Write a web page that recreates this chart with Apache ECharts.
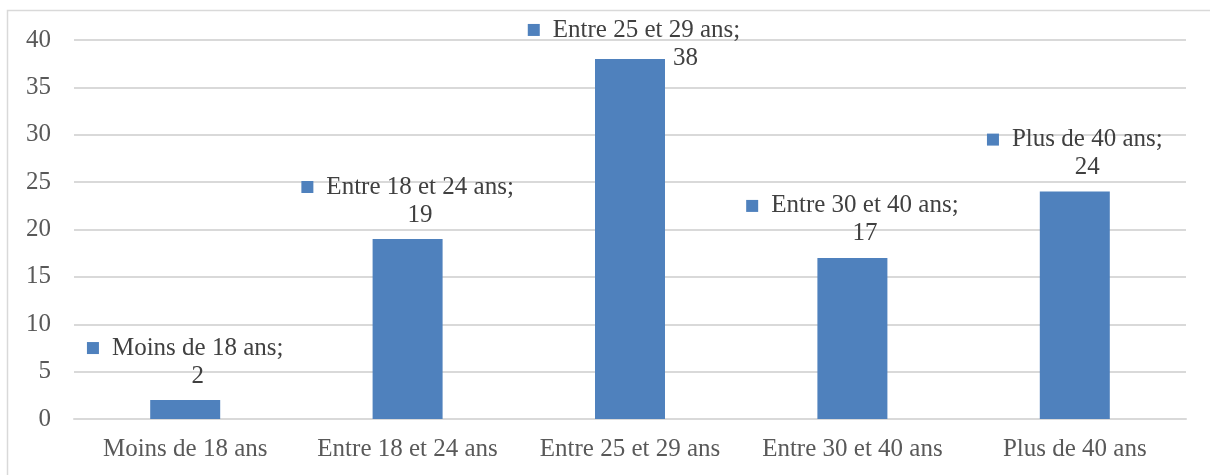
<!DOCTYPE html>
<html>
<head>
<meta charset="utf-8">
<script src="https://cdn.jsdelivr.net/npm/echarts@6/dist/echarts.min.js"></script>
<style>
html,body{margin:0;padding:0;background:#fff;}
#c{width:1210px;height:475px;}
</style>
</head>
<body>
<div id="c"></div>
<script>
const categories = ['Moins de 18 ans', 'Entre 18 et 24 ans', 'Entre 25 et 29 ans', 'Entre 30 et 40 ans', 'Plus de 40 ans'];
const values = [2, 19, 38, 17, 24];
const yTicks = { min: 0, max: 40, interval: 5 };

const FONT = '"Liberation Serif", "Times New Roman", serif';
const BLUE = '#4f81bd';

const rich = {
  sq: { width: 12, height: 12, backgroundColor: BLUE, verticalAlign: 'middle' },
  g: { width: 13 },
  t: { fontFamily: FONT, fontSize: 25, color: '#404040', lineHeight: 28 },
  v: { fontFamily: FONT, fontSize: 25, color: '#404040', lineHeight: 28, padding: [0, 0, 0, 25] },
  v2: { fontFamily: FONT, fontSize: 25, color: '#404040', lineHeight: 28, padding: [0, 0, 0, 103] }
};

const data = values.map((v, i) => {
  const item = { value: v };
  if (i === 2) {
    item.label = {
      offset: [4, 23],
      formatter: p => '{sq|}{g|}{t|' + p.name + ';}\n{v2|' + p.value + '}'
    };
  }
  return item;
});

const chart = echarts.init(document.getElementById('c'));
chart.setOption({
  animation: false,
  backgroundColor: '#fff',
  graphic: [{
    type: 'rect',
    shape: { x: 7.5, y: 10.5, width: 1300, height: 600 },
    style: { fill: 'none', stroke: '#d9d9d9', lineWidth: 1.5 },
    silent: true
  }],
  grid: { left: 74, right: 24, top: 40, bottom: 56, containLabel: false },
  xAxis: {
    type: 'category',
    data: categories,
    axisLine: { show: true, lineStyle: { color: '#d9d9d9', width: 2 } },
    axisTick: { show: false },
    axisLabel: { fontFamily: FONT, fontSize: 25, color: '#595959', margin: 18, interval: 0 }
  },
  yAxis: {
    type: 'value',
    min: yTicks.min, max: yTicks.max, interval: yTicks.interval,
    axisLine: { show: false },
    axisTick: { show: false },
    splitLine: { lineStyle: { color: '#d9d9d9', width: 2 } },
    axisLabel: { fontFamily: FONT, fontSize: 25, color: '#595959', margin: 23 }
  },
  series: [{
    type: 'bar',
    data: data,
    barWidth: 70,
    itemStyle: { color: BLUE },
    label: {
      show: true,
      position: 'top',
      distance: 10,
      align: 'center',
      formatter: p => '{sq|}{g|}{t|' + p.name + ';}\n{v|' + p.value + '}',
      rich: rich
    }
  }]
});
</script>
</body>
</html>
